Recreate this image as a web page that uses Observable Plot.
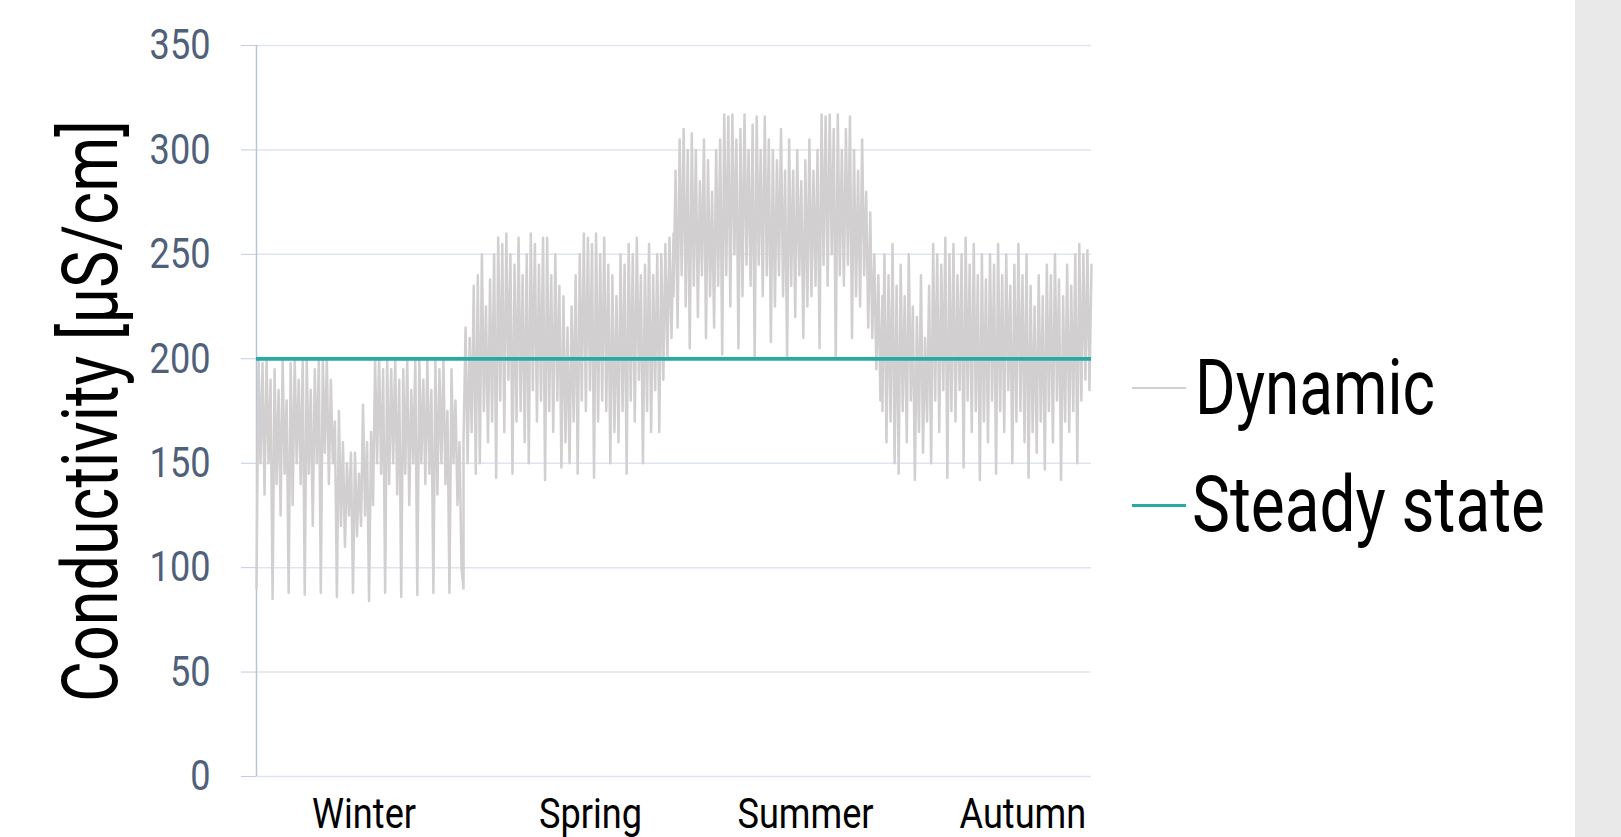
<!DOCTYPE html>
<html>
<head>
<meta charset="utf-8">
<script src="https://cdn.jsdelivr.net/npm/d3@7"></script>
<script src="https://cdn.jsdelivr.net/npm/@observablehq/plot@0.6"></script>
<style>
  html, body { margin: 0; padding: 0; background: #ffffff; }
  body { width: 1621px; height: 837px; position: relative; overflow: hidden; font-family: Roboto, sans-serif; }
  #chart { position: absolute; left: 0; top: 0; }
  #panel { position: absolute; left: 1575px; top: 0; width: 46px; height: 837px; background: #e9e9e9; }
  .leg { position: absolute; font-size: 77px; line-height: 77px; color: #000; white-space: nowrap; transform-origin: 0 0; }
  .sw { position: absolute; }
</style>
</head>
<body>
<div id="chart"></div>
<div id="panel"></div>
<div class="sw" id="sw1"></div><div class="leg" id="lg1"></div>
<div class="sw" id="sw2"></div><div class="leg" id="lg2"></div>
<script>
// ---- data ----
const seriesNames = ["Dynamic", "Steady state"];
const yLabel = "Conductivity [µS/cm]";
const seasonLabels = ["Winter", "Spring", "Summer", "Autumn"];
const seasonLabelDays = [47, 146, 240, 335];
const seasonBounds = [0, 90.5, 182.3, 273.6, 365];
const yTicks = [0, 50, 100, 150, 200, 250, 300, 350];
const steadyValue = 200;

const winter = [
  90,200,150,198,135,200,150,190,
  85,195,140,185,125,200,145,180,
  88,198,130,200,150,190,140,200,
  87,200,145,185,120,195,150,200,
  88,200,155,200,140,190,150,170,
  86,175,120,160,110,150,125,155,
  88,155,115,145,120,178,125,160,
  84,165,130,200,150,200,145,195,
  88,200,140,195,150,200,135,190,
  86,195,145,200,130,185,150,200,
  87,200,150,190,140,200,145,185,
  88,200,135,195,150,200,140,175,
  88,195,150,180,130,160,100,90
];
const spring = [
  160,215,150,210,165,235,145,240,
  150,250,175,225,160,238,170,250,
  143,258,180,255,165,260,190,250,
  145,245,170,258,175,240,160,250,
  150,260,185,255,170,245,180,258,
  142,258,175,240,165,250,180,235,
  148,230,160,215,150,225,170,240,
  145,250,180,260,175,258,185,255,
  143,260,170,250,180,258,175,245,
  150,240,165,230,160,250,175,245,
  145,255,180,250,170,258,190,240,
  150,245,175,255,165,240,185,250,
  165,250,190,255,200,258,210,260
];
const summer = [
  230,290,215,305,240,310,225,300,
  205,308,235,300,220,285,240,305,
  210,295,230,280,215,300,235,305,
  202,317,240,316,225,317,250,305,
  205,310,230,317,245,300,235,312,
  200,316,245,300,230,316,240,305,
  208,300,225,295,240,310,230,290,
  200,305,235,290,220,300,240,285,
  210,295,225,305,230,290,235,300,
  205,317,245,316,235,317,250,310,
  200,317,240,300,235,310,245,316,
  210,300,230,290,225,305,240,280,
  215,270,210,250,195,240,180,230
];
const autumn = [
  175,250,160,240,170,255,150,235,
  145,245,175,230,160,250,180,225,
  142,220,165,240,155,210,170,235,
  150,255,180,250,165,245,185,258,
  143,250,175,255,170,240,185,250,
  148,258,180,245,165,255,175,240,
  142,250,170,238,160,250,180,245,
  145,255,175,240,165,250,185,235,
  150,245,170,255,175,240,160,250,
  143,235,165,225,155,240,170,230,
  147,245,175,240,160,250,180,238,
  142,230,170,245,165,235,175,250,
  150,255,180,250,190,252,185,245
];

// ---- build table ----
const seasons = [winter, spring, summer, autumn];
const dynamic = [];
seasons.forEach((vals, s) => {
  const a = seasonBounds[s], b = seasonBounds[s + 1];
  vals.forEach((v, i) => dynamic.push({day: a + (b - a) * i / (vals.length - 1), value: v}));
});

const teal = "#27aaa6";
const grey = "#d1cfd0";
const tickColor = "#4f607a";
const font = 'Roboto, sans-serif';

const chart = Plot.plot({
  width: 1130,
  height: 837,
  marginTop: 45,
  marginBottom: 61,
  marginLeft: 256,
  marginRight: 39,
  style: {fontFamily: font, background: "transparent", overflow: "visible"},
  x: {domain: [0, 365]},
  y: {domain: [0, 350]},
  marks: [
    Plot.gridY(yTicks, {stroke: "#dfe5ee", strokeOpacity: 1, strokeWidth: 1.5}),
    Plot.axisY(yTicks, {tickSize: 15, tickPadding: 31, fontSize: 43, stroke: "#c3cddb", fill: tickColor, label: null}),
    Plot.axisX(seasonLabelDays, {tickSize: 0, tickPadding: 21, fontSize: 43, fill: "#000", label: null,
      tickFormat: (d, i) => seasonLabels[i]}),
    Plot.ruleX([0], {y1: 0, y2: 350, stroke: "#b9c5d6", strokeWidth: 1.5}),
    Plot.lineY(dynamic, {x: "day", y: "value", stroke: grey, strokeWidth: 2.5}),
    Plot.ruleY([steadyValue], {stroke: teal, strokeWidth: 3.8}),
    Plot.text([yLabel], {frameAnchor: "left", rotate: -90, dx: -164, textAnchor: "middle", lineAnchor: "middle",
      fontSize: 77, fill: "#000"})
  ]
});
document.getElementById("chart").append(chart);

// condense text to mimic the narrow typeface of the original
chart.querySelectorAll("text").forEach(t => {
  const w = t.getComputedTextLength();
  if (!w) return;
  if (t.textContent === yLabel) {
    t.setAttribute("transform", (t.getAttribute("transform") || "") + ` scale(${582 / w},1)`);
  } else {
    t.setAttribute("textLength", w * 0.84);
    t.setAttribute("lengthAdjust", "spacingAndGlyphs");
  }
});

// ---- legend ----
function legend(sw, lg, color, width, yLine, xText, baseline, label, targetW) {
  const s = document.getElementById(sw);
  s.style.left = "1132px"; s.style.width = "54px";
  s.style.top = (yLine - width / 2) + "px"; s.style.height = width + "px";
  s.style.background = color;
  const t = document.getElementById(lg);
  t.textContent = label;
  t.style.left = xText + "px";
  t.style.top = (baseline - 65) + "px";
  const w = t.getBoundingClientRect().width;
  t.style.transform = `scaleX(${targetW / w})`;
}
legend("sw1", "lg1", grey, 2, 388, 1195, 415, seriesNames[0], 240);
legend("sw2", "lg2", teal, 3, 505, 1192, 532, seriesNames[1], 353);
</script>
</body>
</html>
